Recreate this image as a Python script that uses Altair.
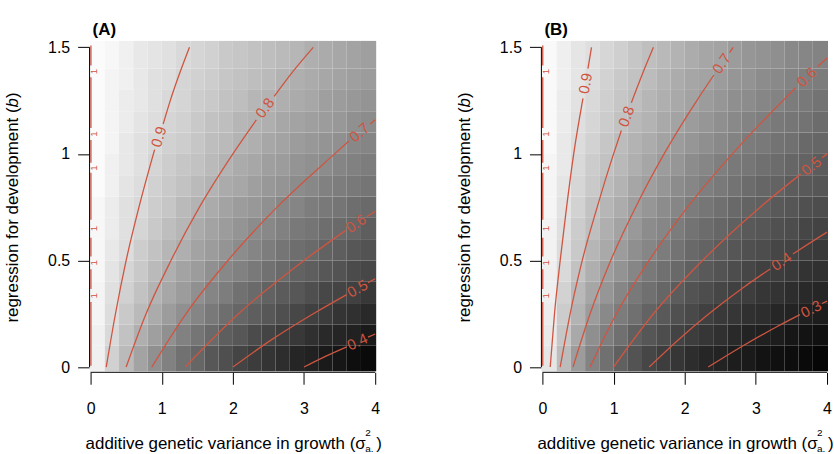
import altair as alt
import pandas as pd

# ---------------------------------------------------------------- data
# cell centres of the shaded grid
X_CENTERS = [0.1, 0.3, 0.5, 0.7, 0.9, 1.1, 1.3, 1.5, 1.7, 1.9,
             2.1, 2.3, 2.5, 2.7, 2.9, 3.1, 3.3, 3.5, 3.7, 3.9]
B_CENTERS = [0.05, 0.15, 0.25, 0.35, 0.45, 0.55, 0.65, 0.75,
             0.85, 0.95, 1.05, 1.15, 1.25, 1.35, 1.45]

# shaded surface, one row per b (bottom to top)
A_ROWS = [
    [0.96, 0.88, 0.82, 0.76, 0.71, 0.67, 0.63, 0.60, 0.56, 0.54, 0.51, 0.49, 0.47, 0.45, 0.43, 0.42, 0.40, 0.39, 0.37, 0.36],
    [0.96, 0.90, 0.84, 0.79, 0.75, 0.71, 0.67, 0.64, 0.61, 0.58, 0.56, 0.53, 0.51, 0.49, 0.48, 0.46, 0.44, 0.43, 0.42, 0.40],
    [0.97, 0.91, 0.86, 0.82, 0.78, 0.74, 0.71, 0.68, 0.65, 0.62, 0.60, 0.58, 0.56, 0.54, 0.52, 0.50, 0.49, 0.47, 0.46, 0.44],
    [0.97, 0.92, 0.88, 0.84, 0.80, 0.77, 0.74, 0.71, 0.68, 0.66, 0.63, 0.61, 0.59, 0.57, 0.56, 0.54, 0.52, 0.51, 0.50, 0.48],
    [0.98, 0.93, 0.89, 0.86, 0.82, 0.79, 0.76, 0.74, 0.71, 0.69, 0.67, 0.65, 0.63, 0.61, 0.59, 0.58, 0.56, 0.55, 0.53, 0.52],
    [0.98, 0.94, 0.91, 0.87, 0.84, 0.81, 0.79, 0.76, 0.74, 0.72, 0.70, 0.68, 0.66, 0.64, 0.62, 0.61, 0.59, 0.58, 0.56, 0.55],
    [0.98, 0.95, 0.92, 0.89, 0.86, 0.83, 0.81, 0.78, 0.76, 0.74, 0.72, 0.70, 0.69, 0.67, 0.65, 0.64, 0.62, 0.61, 0.60, 0.58],
    [0.98, 0.95, 0.92, 0.90, 0.87, 0.85, 0.82, 0.80, 0.78, 0.76, 0.74, 0.73, 0.71, 0.69, 0.68, 0.66, 0.65, 0.64, 0.62, 0.61],
    [0.99, 0.96, 0.93, 0.91, 0.88, 0.86, 0.84, 0.82, 0.80, 0.78, 0.77, 0.75, 0.73, 0.72, 0.70, 0.69, 0.67, 0.66, 0.65, 0.64],
    [0.99, 0.96, 0.94, 0.92, 0.89, 0.87, 0.85, 0.84, 0.82, 0.80, 0.78, 0.77, 0.75, 0.74, 0.72, 0.71, 0.70, 0.68, 0.67, 0.66],
    [0.99, 0.97, 0.94, 0.92, 0.90, 0.88, 0.87, 0.85, 0.83, 0.82, 0.80, 0.79, 0.77, 0.76, 0.74, 0.73, 0.72, 0.71, 0.69, 0.68],
    [0.99, 0.97, 0.95, 0.93, 0.91, 0.89, 0.88, 0.86, 0.84, 0.83, 0.81, 0.80, 0.79, 0.77, 0.76, 0.75, 0.74, 0.73, 0.71, 0.70],
    [0.99, 0.97, 0.95, 0.94, 0.92, 0.90, 0.89, 0.87, 0.86, 0.84, 0.83, 0.81, 0.80, 0.79, 0.78, 0.77, 0.75, 0.74, 0.73, 0.72],
    [0.99, 0.97, 0.96, 0.94, 0.92, 0.91, 0.89, 0.88, 0.87, 0.85, 0.84, 0.83, 0.82, 0.80, 0.79, 0.78, 0.77, 0.76, 0.75, 0.74],
    [0.99, 0.98, 0.96, 0.94, 0.93, 0.92, 0.90, 0.89, 0.88, 0.86, 0.85, 0.84, 0.83, 0.82, 0.81, 0.79, 0.78, 0.77, 0.76, 0.75],
]
B_ROWS = [
    [0.92, 0.79, 0.69, 0.61, 0.55, 0.50, 0.46, 0.42, 0.39, 0.37, 0.34, 0.32, 0.31, 0.29, 0.28, 0.26, 0.25, 0.24, 0.23, 0.22],
    [0.93, 0.82, 0.73, 0.65, 0.60, 0.55, 0.50, 0.47, 0.44, 0.41, 0.39, 0.37, 0.35, 0.33, 0.31, 0.30, 0.29, 0.27, 0.26, 0.25],
    [0.94, 0.84, 0.76, 0.69, 0.63, 0.59, 0.55, 0.51, 0.48, 0.45, 0.43, 0.40, 0.38, 0.37, 0.35, 0.34, 0.32, 0.31, 0.30, 0.29],
    [0.95, 0.86, 0.78, 0.72, 0.67, 0.62, 0.58, 0.55, 0.52, 0.49, 0.46, 0.44, 0.42, 0.40, 0.39, 0.37, 0.36, 0.34, 0.33, 0.32],
    [0.95, 0.88, 0.81, 0.75, 0.70, 0.66, 0.62, 0.58, 0.55, 0.53, 0.50, 0.48, 0.46, 0.44, 0.42, 0.40, 0.39, 0.38, 0.36, 0.35],
    [0.96, 0.89, 0.83, 0.77, 0.73, 0.69, 0.65, 0.62, 0.59, 0.56, 0.53, 0.51, 0.49, 0.47, 0.45, 0.44, 0.42, 0.41, 0.39, 0.38],
    [0.96, 0.90, 0.84, 0.80, 0.75, 0.71, 0.68, 0.64, 0.62, 0.59, 0.56, 0.54, 0.52, 0.50, 0.48, 0.47, 0.45, 0.44, 0.42, 0.41],
    [0.97, 0.91, 0.86, 0.81, 0.77, 0.74, 0.70, 0.67, 0.64, 0.62, 0.59, 0.57, 0.55, 0.53, 0.51, 0.50, 0.48, 0.47, 0.45, 0.44],
    [0.97, 0.92, 0.87, 0.83, 0.79, 0.76, 0.72, 0.70, 0.67, 0.64, 0.62, 0.60, 0.58, 0.56, 0.54, 0.52, 0.51, 0.49, 0.48, 0.47],
    [0.97, 0.93, 0.88, 0.84, 0.81, 0.78, 0.75, 0.72, 0.69, 0.67, 0.64, 0.62, 0.60, 0.58, 0.57, 0.55, 0.54, 0.52, 0.51, 0.49],
    [0.98, 0.93, 0.89, 0.86, 0.82, 0.79, 0.76, 0.74, 0.71, 0.69, 0.67, 0.65, 0.63, 0.61, 0.59, 0.58, 0.56, 0.55, 0.53, 0.52],
    [0.98, 0.94, 0.90, 0.87, 0.84, 0.81, 0.78, 0.76, 0.73, 0.71, 0.69, 0.67, 0.65, 0.63, 0.61, 0.60, 0.58, 0.57, 0.56, 0.54],
    [0.98, 0.94, 0.91, 0.88, 0.85, 0.82, 0.80, 0.77, 0.75, 0.73, 0.71, 0.69, 0.67, 0.65, 0.64, 0.62, 0.61, 0.59, 0.58, 0.56],
    [0.98, 0.95, 0.92, 0.89, 0.86, 0.83, 0.81, 0.79, 0.76, 0.74, 0.72, 0.71, 0.69, 0.67, 0.66, 0.64, 0.63, 0.61, 0.60, 0.59],
    [0.98, 0.95, 0.92, 0.90, 0.87, 0.85, 0.82, 0.80, 0.78, 0.76, 0.74, 0.72, 0.71, 0.69, 0.67, 0.66, 0.65, 0.63, 0.62, 0.61],
]

# contour lines: level -> pieces (broken where the label sits), points (x, b)
A_CONTOURS = [
    ("0.9", [[(0.22, 0.0), (0.35, 0.25), (0.50, 0.50), (0.68, 0.75), (0.90, 1.02)],
             [(1.02, 1.14), (1.12, 1.25), (1.39, 1.50)]]),
    ("0.8", [[(0.50, 0.0), (0.78, 0.25), (1.13, 0.50), (1.53, 0.75), (2.00, 1.00), (2.33, 1.16)],
             [(2.58, 1.27), (2.84, 1.385), (3.13, 1.50)]]),
    ("0.7", [[(0.86, 0.0), (1.34, 0.25), (1.93, 0.50), (2.62, 0.75), (3.43, 1.00), (3.63, 1.06)],
             [(3.93, 1.14), (4.00, 1.16)]]),
    ("0.6", [[(1.33, 0.0), (2.08, 0.25), (3.00, 0.50), (3.58, 0.64)],
             [(3.88, 0.705), (4.00, 0.73)]]),
    ("0.5", [[(2.00, 0.0), (2.53, 0.125), (3.13, 0.25), (3.60, 0.34)],
             [(3.90, 0.396), (4.00, 0.414)]]),
    ("0.4", [[(3.00, 0.0), (3.30, 0.05), (3.60, 0.095)],
             [(3.90, 0.14), (4.00, 0.155)]]),
]
B_CONTOURS = [
    ("0.9", [[(0.11, 0.0), (0.17, 0.25), (0.25, 0.50), (0.34, 0.75), (0.44, 1.00), (0.57, 1.26)],
             [(0.64, 1.40), (0.69, 1.50)]]),
    ("0.8", [[(0.25, 0.0), (0.39, 0.25), (0.56, 0.50), (0.77, 0.75), (1.00, 1.00), (1.11, 1.11)],
             [(1.25, 1.24), (1.40, 1.37), (1.56, 1.50)]]),
    ("0.7", [[(0.43, 0.0), (0.67, 0.25), (0.96, 0.50), (1.31, 0.75), (1.71, 1.00), (2.17, 1.25), (2.41, 1.37)],
             [(2.63, 1.475), (2.68, 1.50)]]),
    ("0.6", [[(0.67, 0.0), (1.04, 0.25), (1.50, 0.50), (2.04, 0.75), (2.67, 1.00), (3.38, 1.25), (3.56, 1.31)],
             [(3.87, 1.41), (4.00, 1.45)]]),
    ("0.5", [[(1.00, 0.0), (1.56, 0.25), (2.25, 0.50), (3.06, 0.75), (3.63, 0.905)],
             [(3.93, 0.982), (4.00, 1.00)]]),
    ("0.4", [[(1.50, 0.0), (1.90, 0.125), (2.34, 0.25), (2.81, 0.37), (3.20, 0.46)],
             [(3.52, 0.53), (3.75, 0.58), (4.00, 0.633)]]),
    ("0.3", [[(2.33, 0.0), (2.82, 0.10), (3.30, 0.19), (3.62, 0.246)],
             [(3.93, 0.298), (4.00, 0.309)]]),
]

# contour labels: text, x, b, rotation (deg)
A_LABELS = [("0.9", 0.96, 1.08, 287), ("0.8", 2.45, 1.215, 306), ("0.7", 3.78, 1.10, 320),
            ("0.6", 3.73, 0.673, 326), ("0.5", 3.75, 0.368, 331), ("0.4", 3.75, 0.118, 336)]
B_LABELS = [("0.9", 0.605, 1.33, 280), ("0.8", 1.18, 1.175, 290), ("0.7", 2.52, 1.423, 305),
            ("0.6", 3.715, 1.36, 316), ("0.5", 3.78, 0.943, 322), ("0.4", 3.36, 0.495, 326),
            ("0.3", 3.775, 0.272, 333)]

# the level-1 contour running up the left edge, and where its labels sit
EDGE_X = 0.005
EDGE_PIECES = [(0.006, 0.305), (0.366, 0.459), (0.518, 0.607), (0.691, 0.911),
               (0.958, 1.065), (1.121, 1.359), (1.415, 1.508)]
EDGE_LABEL_B = [0.335, 0.489, 0.650, 0.934, 1.093, 1.387]

X_TICKS = [0, 1, 2, 3, 4]
Y_TICKS = [0, 0.5, 1, 1.5]

# ---------------------------------------------------------------- style
X_DOMAIN = [-0.014, 4.014]
Y_DOMAIN = [-0.02, 1.53]
W, H = 288, 332
RED = "#cf5540"
FONT = "Liberation Sans"

AX = alt.Axis(values=X_TICKS, title=None, offset=1, labelPadding=16, format="~g")
AY = alt.Axis(values=Y_TICKS, title=None, labelPadding=8, format="~g")


def heat_frame(rows):
    recs = []
    nb, nx = len(B_CENTERS), len(X_CENTERS)
    for j, b in enumerate(B_CENTERS):
        b_lo = Y_DOMAIN[0] if j == 0 else b - 0.05
        b_hi = Y_DOMAIN[1] if j == nb - 1 else b + 0.05
        for i, x in enumerate(X_CENTERS):
            x_lo = X_DOMAIN[0] if i == 0 else x - 0.1
            x_hi = X_DOMAIN[1] if i == nx - 1 else x + 0.1
            recs.append(dict(x_lo=x_lo, x_hi=x_hi, b_lo=b_lo, b_hi=b_hi, v=rows[j][i]))
    return pd.DataFrame(recs)


def contour_frame(contours):
    recs = []
    for level, pieces in contours:
        for k, piece in enumerate(pieces):
            for i, (x, b) in enumerate(piece):
                recs.append(dict(seg=f"{level}-{k}", i=i, x=x, b=b))
    return pd.DataFrame(recs)


def edge_frame():
    recs = []
    for k, (b0, b1) in enumerate(EDGE_PIECES):
        recs.append(dict(seg=k, i=0, x=EDGE_X, b=b0))
        recs.append(dict(seg=k, i=1, x=EDGE_X, b=b1))
    return pd.DataFrame(recs)


def text_layer(text, x, y, size, angle=0, align="left", baseline="alphabetic",
               weight="normal", style="normal"):
    return alt.Chart(pd.DataFrame({"t": [text]})).mark_text(
        font=FONT, fontSize=size, angle=angle, align=align, baseline=baseline,
        fontWeight=weight, fontStyle=style, color="black",
    ).encode(text="t:N", x=alt.value(x), y=alt.value(y))


def panel(tag, rows, vmin, contours, labels):
    xs = alt.Scale(domain=X_DOMAIN, nice=False, zero=False)
    ys = alt.Scale(domain=Y_DOMAIN, nice=False, zero=False)

    def xenc(field):
        return alt.X(field, scale=xs, axis=AX)

    def yenc(field):
        return alt.Y(field, scale=ys, axis=AY)

    heat = alt.Chart(heat_frame(rows)).mark_rect().encode(
        x=xenc("x_lo:Q"), x2="x_hi:Q",
        y=yenc("b_lo:Q"), y2="b_hi:Q",
        color=alt.Color("v:Q", legend=None,
                        scale=alt.Scale(domain=[vmin, 1.0], range=["#000000", "#ffffff"],
                                        interpolate="rgb")),
    )

    lines = alt.Chart(contour_frame(contours)).mark_line(
        color=RED, strokeWidth=1.3, interpolate="monotone"
    ).encode(x=xenc("x:Q"), y=yenc("b:Q"), detail="seg:N", order="i:Q")

    edge = alt.Chart(edge_frame()).mark_line(color=RED, strokeWidth=1.3).encode(
        x=xenc("x:Q"), y=yenc("b:Q"), detail="seg:N", order="i:Q")

    lab_df = pd.DataFrame(labels, columns=["t", "x", "b", "ang"])
    labs = alt.Chart(lab_df).mark_text(
        color=RED, font=FONT, fontSize=15, align="center", baseline="middle"
    ).encode(x=xenc("x:Q"), y=yenc("b:Q"), text="t:N",
             angle=alt.Angle("ang:Q", scale=None))

    edge_labs = alt.Chart(pd.DataFrame({"b": EDGE_LABEL_B, "x": 0.045, "t": "1"})).mark_text(
        color=RED, font=FONT, fontSize=10, angle=270, align="center", baseline="middle"
    ).encode(x=xenc("x:Q"), y=yenc("b:Q"), text="t:N")

    # axis lines spanning only the labelled range
    yline = alt.Chart(pd.DataFrame({"b0": [0.0], "b1": [1.5]})).mark_rule(color="black").encode(
        x=alt.value(0), y=yenc("b0:Q"), y2="b1:Q")
    xline = alt.Chart(pd.DataFrame({"x0": [0.0], "x1": [4.0]})).mark_rule(color="black").encode(
        y=alt.value(H + 1), x=xenc("x0:Q"), x2="x1:Q")

    # titles
    ttl = text_layer(tag, 3, -6, 17, weight="bold")
    xt_main = text_layer("additive genetic variance in growth (σ", -4, 410, 17)
    xt_sup = text_layer("2", 277, 397, 10)
    xt_sub = text_layer("a.", 277, 413, 10)
    xt_close = text_layer(")", 288, 410, 17)
    yt_main = text_layer("regression for development (", -72, 66.8, 17, angle=270, align="right")
    yt_b = text_layer("b", -72, 66.8, 17, angle=270, align="left", style="italic")
    yt_close = text_layer(")", -72, 57.4, 17, angle=270, align="left")

    return alt.layer(
        heat, lines, edge, labs, edge_labs, yline, xline,
        ttl, xt_main, xt_sup, xt_sub, xt_close, yt_main, yt_b, yt_close,
    ).properties(width=W, height=H)


chart = alt.hconcat(
    panel("(A)", A_ROWS, 1 / 3, A_CONTOURS, A_LABELS),
    panel("(B)", B_ROWS, 0.2, B_CONTOURS, B_LABELS),
    spacing=74,
).resolve_scale(
    x="independent", y="independent", color="independent"
).properties(
    padding={"left": 4, "top": 20, "right": 0, "bottom": 0},
    background="white",
).configure_view(stroke=None).configure_axis(
    labelFont=FONT, labelFontSize=16, labelColor="black",
    tickColor="black", tickSize=12, tickWidth=1,
    domain=False, grid=False,
)

chart.save("out.html", embed_options={"renderer": "svg", "actions": False})
